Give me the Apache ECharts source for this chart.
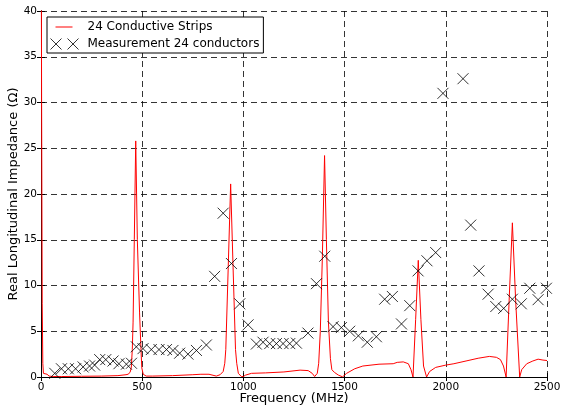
<!DOCTYPE html>
<html>
<head>
<meta charset="utf-8">
<script src="https://cdn.jsdelivr.net/npm/echarts@6/dist/echarts.min.js"></script>
<style>html,body{margin:0;padding:0;background:#fff;}#c{width:562px;height:405px;}</style>
</head>
<body>
<div id="c"></div>
<script>
// Simulation: 24 Conductive Strips
var simFreq = [0,3,6,9,12,20,30,40,60,100,200,300,380,420,430,440,446,451,455,461,468,476,487,494,498,505,520,550,650,750,790,830,866,885,900,908,913,925,937,949,961,967,975,990,1000,1010,1040,1110,1200,1280,1320,1340,1352,1365,1372,1380,1390,1401,1410,1420,1430,1437,1450,1470,1490,1510,1550,1590,1670,1740,1760,1790,1815,1828,1838,1851,1864,1877,1890,1905,1920,1950,2000,2040,2100,2160,2215,2250,2270,2285,2298,2313,2329,2345,2365,2375,2400,2430,2456,2480,2500];
var simVal  = [60,30,8,1.5,0.4,0.3,0.3,0.1,0.05,0.05,0.08,0.1,0.15,0.25,0.3,0.5,1,3,6,15,25.8,15,7,3,1,0.3,0.1,0.1,0.15,0.25,0.3,0.3,0.1,0.25,0.6,1.5,3,12,21.1,12,3,1.5,0.4,0.05,0.05,0.2,0.4,0.45,0.55,0.75,0.7,0.4,0.05,0.4,1.5,5,13,24.2,15,6,2,0.8,0.5,0.2,0.02,0.4,0.9,1.2,1.4,1.45,1.6,1.65,1.45,0.8,0.0,6.3,12.75,6.3,1.2,0.0,0.6,1.05,1.3,1.45,1.75,2.05,2.25,2.15,1.9,1.2,0.0,8.4,16.85,8.4,0.0,0.8,1.45,1.75,1.95,1.85,1.8];
// Measurement 24 conductors
var measFreq = [68,101,135,171,208,240,265,290,320,356,385,422,447,471,504,545,583,620,652,685,726,768,817,858,900,941,982,1023,1064,1097,1130,1163,1196,1229,1262,1319,1361,1402,1443,1484,1525,1568,1612,1657,1698,1736,1781,1822,1863,1907,1950,1986,2085,2123,2164,2209,2247,2286,2329,2373,2415,2456,2497];
var measVal  = [0.4,0.9,0.9,0.9,1.1,1.2,1.3,1.9,1.9,1.75,1.45,1.4,1.5,3.3,3.1,3.0,3.0,3.0,2.9,2.6,2.5,2.9,3.5,11.0,17.9,12.4,8.0,5.7,3.6,3.8,3.65,3.65,3.65,3.65,3.7,4.8,10.2,13.2,5.5,5.4,5.0,4.5,3.8,4.4,8.5,8.8,5.8,7.8,11.6,12.7,13.6,31.0,32.6,16.6,11.6,9.05,7.7,7.5,8.5,8.0,9.7,8.45,9.7];
var xTicks = [0,500,1000,1500,2000,2500];
var yTicks = [0,5,10,15,20,25,30,35,40];

var FONT = 'DejaVu Sans';
var simData = simFreq.map(function(f,i){return [f, simVal[i]];});
var measData = measFreq.map(function(f,i){return [f, measVal[i]];});
function plain(v){ return String(v); }

var gridLine = {show:true, lineStyle:{color:'#000', width:0.8, type:[6,4]}};
var chart = echarts.init(document.getElementById('c'), null, {renderer:'canvas'});
chart.setOption({
  animation:false,
  backgroundColor:'#fff',
  grid:{left:41, right:15, top:11, bottom:28, containLabel:false, outerBoundsMode:'none'},
  xAxis:[{
    type:'value', min:xTicks[0], max:xTicks[xTicks.length-1], interval:500,
    name:'Frequency (MHz)', nameLocation:'middle', nameGap:15, nameMoveOverlap:false,
    nameTextStyle:{fontFamily:FONT, fontSize:13, color:'#000'},
    axisLine:{show:true, lineStyle:{color:'#000', width:1}},
    axisTick:{show:true, inside:true, length:4, lineStyle:{color:'#000'}},
    axisLabel:{fontFamily:FONT, fontSize:10.5, color:'#000', margin:5, showMinLabel:true, showMaxLabel:true, formatter:plain},
    splitLine:gridLine
  },{
    type:'value', position:'top', min:xTicks[0], max:xTicks[xTicks.length-1], interval:500,
    axisLine:{show:true, lineStyle:{color:'#000', width:1}},
    axisTick:{show:true, inside:true, length:4, lineStyle:{color:'#000'}},
    axisLabel:{show:false}, splitLine:{show:false}
  }],
  yAxis:[{
    type:'value', min:yTicks[0], max:yTicks[yTicks.length-1], interval:5,
    name:'Real Longitudinal Impedance (Ω)', nameLocation:'middle', nameGap:21, nameMoveOverlap:false,
    nameTextStyle:{fontFamily:FONT, fontSize:13, color:'#000'},
    axisLine:{show:true, lineStyle:{color:'#000', width:1}},
    axisTick:{show:true, inside:true, length:4, lineStyle:{color:'#000'}},
    axisLabel:{fontFamily:FONT, fontSize:10.5, color:'#000', margin:4, showMinLabel:true, showMaxLabel:true, formatter:plain},
    splitLine:gridLine
  },{
    type:'value', position:'right', min:yTicks[0], max:yTicks[yTicks.length-1], interval:5,
    axisLine:{show:true, lineStyle:{color:'#000', width:1}},
    axisTick:{show:true, inside:true, length:4, lineStyle:{color:'#000'}},
    axisLabel:{show:false}, splitLine:{show:false}
  }],
  legend:{
    show:true, orient:'vertical', left:47, top:17, padding:[4,4,3,3],
    itemWidth:32, itemHeight:12, itemGap:5,
    borderColor:'#000', borderWidth:1, backgroundColor:'#fff', borderRadius:0,
    textStyle:{fontFamily:FONT, fontSize:12, color:'#000'},
    data:[
      {name:'24 Conductive Strips', icon:'path://M0,0M32,12M5,5.5L22,5.5L22,6.5L5,6.5Z',
       itemStyle:{color:'#ff0000', borderColor:'#ff0000', borderWidth:0}},
      {name:'Measurement 24 conductors', icon:'path://M0,0L11,11M11,0L0,11M17,0L28,11M28,0L17,11M32,0',
       itemStyle:{color:'rgba(0,0,0,0)', borderColor:'#000', borderWidth:1}}
    ]
  },
  series:[{
    name:'24 Conductive Strips', type:'line', data:simData, xAxisIndex:0, yAxisIndex:0,
    symbol:'none', showSymbol:false, smooth:false, clip:true,
    lineStyle:{color:'#ff0000', width:1}, itemStyle:{color:'#ff0000'}, z:3
  },{
    name:'Measurement 24 conductors', type:'scatter', data:measData, xAxisIndex:0, yAxisIndex:0,
    symbol:'path://M0,0L10,10M10,0L0,10', symbolSize:11,
    itemStyle:{color:'rgba(0,0,0,0)', borderColor:'#000', borderWidth:1}, z:4
  }]
});
</script>
</body>
</html>
